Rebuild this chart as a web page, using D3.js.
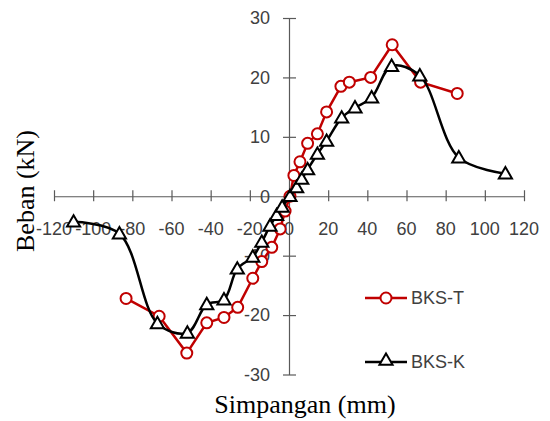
<!DOCTYPE html>
<html>
<head>
<meta charset="utf-8">
<script src="https://cdn.jsdelivr.net/npm/d3@7"></script>
<style>
  body { margin: 0; background: #fff; }
</style>
</head>
<body>
<div id="chart"></div>
<script>
// series: [simpangan (mm), beban (kN)]
const bksT = [
  [-83.2, -17.2], [-66.3, -20.2], [-52.2, -26.4], [-42, -21.3], [-33.2, -20.4],
  [-26.2, -18.7], [-18.5, -13.8], [-13.9, -11], [-8.8, -8.6], [-4.5, -5.5],
  [-2, -2.5], [0.5, 0], [2.5, 3.5], [5.6, 5.8], [9.5, 8.9], [14.5, 10.5],
  [19.2, 14.2], [26.5, 18.5], [30.8, 19.2], [41.7, 20], [52.7, 25.5],
  [67.2, 19.2], [85.9, 17.3]
];
const bksK = [
  [-110, -4.3], [-86.6, -6.3], [-67.2, -21.4], [-51.9, -23], [-42, -18.2],
  [-33.2, -17.4], [-26.4, -12.2], [-18.5, -10.2], [-13.9, -7.7], [-9.7, -5],
  [-6.3, -3.2], [-3.5, -1.8], [0.5, 0], [3.9, 1.5], [6.5, 2.9], [9.5, 4.5],
  [14.5, 7.1], [19.2, 9.3], [26.9, 13.2], [33.7, 14.9], [42.2, 16.6],
  [52.4, 21.9], [66.8, 20.3], [86.7, 6.5], [110.5, 3.8]
];
const xTicks = [-120, -100, -80, -60, -40, -20, 0, 20, 40, 60, 80, 100, 120];
const yTicks = [-30, -20, -10, 0, 10, 20, 30];
const seriesNames = ["BKS-T", "BKS-K"];

const width = 550, height = 421;
const svg = d3.select("#chart").append("svg")
  .attr("width", width).attr("height", height);

const x = d3.scaleLinear().domain([-120, 120]).range([54, 524]);
const y = d3.scaleLinear().domain([-30, 30]).range([374.5, 18]);

const axisColor = "#595959";
const labelColor = "#404040";
const tickFont = "'Liberation Sans', Arial, sans-serif";

// x axis with cross ticks
const xAxis = svg.append("g")
  .attr("transform", `translate(0,${y(0)})`)
  .call(d3.axisBottom(x).tickValues(xTicks).tickSize(0).tickFormat(""));
xAxis.select(".domain").attr("stroke", axisColor).attr("stroke-width", 1.2);
xAxis.selectAll(".tick line").remove();
xAxis.selectAll(".tick").append("line")
  .attr("y1", -6).attr("y2", 5)
  .attr("stroke", axisColor).attr("stroke-width", 1.2);

// y axis with cross ticks
const yAxis = svg.append("g")
  .attr("transform", `translate(${x(0)},0)`)
  .call(d3.axisLeft(y).tickValues(yTicks).tickSize(0).tickFormat(""));
yAxis.select(".domain").attr("stroke", axisColor).attr("stroke-width", 1.2);
yAxis.selectAll(".tick line").remove();
yAxis.selectAll(".tick").append("line")
  .attr("x1", -6).attr("x2", 7)
  .attr("stroke", axisColor).attr("stroke-width", 1.2);

// tick labels
svg.append("g").selectAll("text").data(xTicks).enter().append("text")
  .attr("x", (d) => x(d))
  .attr("y", 229)
  .attr("dy", "0.35em")
  .attr("text-anchor", "middle")
  .style("font-family", tickFont)
  .style("font-size", "18px")
  .style("fill", labelColor)
  .text((d) => d);

svg.append("g").selectAll("text").data(yTicks).enter().append("text")
  .attr("x", 270)
  .attr("y", (d) => y(d))
  .attr("dy", "0.35em")
  .attr("text-anchor", "end")
  .style("font-family", tickFont)
  .style("font-size", "18px")
  .style("fill", labelColor)
  .text((d) => d);

// axis titles
svg.append("text")
  .attr("x", 305).attr("y", 413)
  .attr("text-anchor", "middle")
  .style("font-family", "'Liberation Serif', 'Times New Roman', serif")
  .style("font-size", "26px")
  .text("Simpangan (mm)");

svg.append("text")
  .attr("transform", "translate(34,191) rotate(-90)")
  .attr("text-anchor", "middle")
  .style("font-family", "'Liberation Serif', 'Times New Roman', serif")
  .style("font-size", "26px")
  .text("Beban (kN)");

const red = "#C00000";
const tri = d3.symbol().type(d3.symbolTriangle).size(75);

// BKS-T: straight segments, circles
svg.append("path")
  .datum(bksT)
  .attr("fill", "none")
  .attr("stroke", red)
  .attr("stroke-width", 2.5)
  .attr("d", d3.line().x((d) => x(d[0])).y((d) => y(d[1])));

svg.append("g").selectAll("circle").data(bksT).enter().append("circle")
  .attr("cx", (d) => x(d[0]))
  .attr("cy", (d) => y(d[1]))
  .attr("r", 5.5)
  .attr("fill", "#fff")
  .attr("stroke", red)
  .attr("stroke-width", 2);

// BKS-K: smoothed line, triangles
svg.append("path")
  .datum(bksK)
  .attr("fill", "none")
  .attr("stroke", "#000")
  .attr("stroke-width", 2.5)
  .attr("d", d3.line().curve(d3.curveCatmullRom.alpha(0.5))
    .x((d) => x(d[0])).y((d) => y(d[1])));

svg.append("g").selectAll("path").data(bksK).enter().append("path")
  .attr("transform", (d) => `translate(${x(d[0])},${y(d[1]) + 1})`)
  .attr("d", tri)
  .attr("fill", "#fff")
  .attr("stroke", "#000")
  .attr("stroke-width", 2);

// legend
const legend = svg.append("g");
const legendY = [298, 362];
seriesNames.forEach((name, i) => {
  const col = i === 0 ? red : "#000";
  legend.append("line")
    .attr("x1", 365).attr("x2", 407)
    .attr("y1", legendY[i]).attr("y2", legendY[i])
    .attr("stroke", col).attr("stroke-width", 2.5);
  if (i === 0) {
    legend.append("circle")
      .attr("cx", 386).attr("cy", legendY[i]).attr("r", 5.5)
      .attr("fill", "#fff").attr("stroke", col).attr("stroke-width", 2);
  } else {
    legend.append("path")
      .attr("transform", `translate(386,${legendY[i] - 1})`)
      .attr("d", tri)
      .attr("fill", "#fff").attr("stroke", col).attr("stroke-width", 2);
  }
  legend.append("text")
    .attr("x", 411).attr("y", legendY[i])
    .attr("dy", "0.35em")
    .style("font-family", tickFont)
    .style("font-size", "18px")
    .style("fill", labelColor)
    .text(name);
});
</script>
</body>
</html>
